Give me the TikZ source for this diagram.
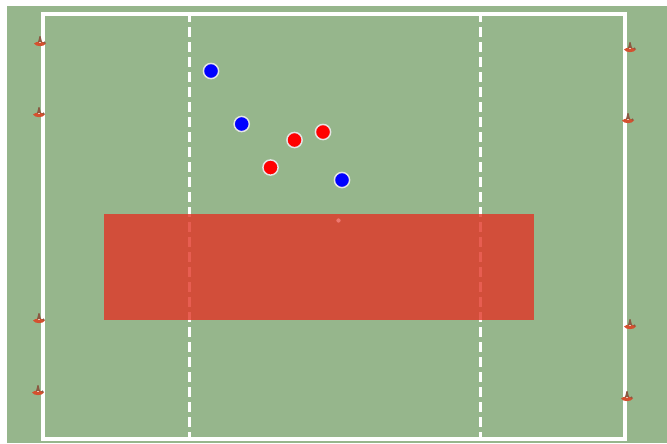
\documentclass[tikz,border=0pt]{standalone}
\definecolor{pitch}{HTML}{96B68C}
\definecolor{zone}{HTML}{E13526}
\definecolor{conered}{HTML}{D4502F}
\definecolor{conedark}{HTML}{8A5A42}
\definecolor{conelight}{HTML}{E8C8B4}
\tikzset{
  px/.style={x=0.75pt,y=-0.75pt},
  line/.style={draw=white,line width=2.3pt},
  dashline/.style={draw=white,line width=1.9pt,dash pattern=on 7.5pt off 3.75pt},
  player/.style={circle,draw=white!90!black,line width=1.1pt,minimum size=11.4pt,inner sep=0pt},
  blueplayer/.style={player,fill=blue},
  redplayer/.style={player,fill=red}
}
\newcommand{\conemark}[2]{%
  \fill[conered] (#1-6,#2+1.5) .. controls (#1-4,#2-1) and (#1+4,#2-1) .. (#1+6,#2+1.5) .. controls (#1+4,#2+5) and (#1-4,#2+5) .. cycle;
  \fill[conedark] (#1-2,#2) -- (#1-0.5,#2-6) -- (#1+0.5,#2-6) -- (#1+2,#2) -- cycle;
  \fill[conelight] (#1-1.5,#2-0.5) rectangle (#1+1.2,#2+1.2);
  \fill[conedark] (#1+4.5,#2+0.5) circle (1.2);
}
\begin{document}
\begin{tikzpicture}[px]
\useasboundingbox (0,0) rectangle (667,443);
\fill[white] (0,0) rectangle (667,443);
\fill[pitch] (7,6) rectangle (667,443);
\draw[dashline] (189.5,12) -- (189.5,439);
\draw[dashline] (480.5,12) -- (480.5,439);
\draw[line] (43,14) rectangle (625,439);
\fill[zone,opacity=.8] (104,214) rectangle (534,320);
\node[circle,fill=red!40!white!85!zone,opacity=.7,inner sep=0pt,minimum size=3.2pt] (spot) at (338.5,220.5) {};
\conemark{40}{42}
\conemark{39}{113}
\conemark{39}{319}
\conemark{38}{391}
\conemark{630}{48}
\conemark{628}{119}
\conemark{630}{325}
\conemark{627}{397}
\node[blueplayer] (b1) at (211,71) {};
\node[blueplayer] (b2) at (241.7,124) {};
\node[blueplayer] (b3) at (342,180) {};
\node[redplayer] (r1) at (323,132) {};
\node[redplayer] (r2) at (294.5,140) {};
\node[redplayer] (r3) at (270.5,167.5) {};
\end{tikzpicture}
\end{document}
